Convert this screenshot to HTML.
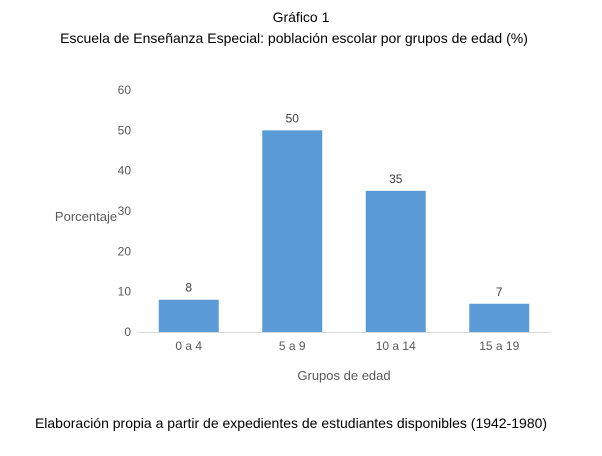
<!DOCTYPE html>
<html><head><meta charset="utf-8"><style>
body{margin:0;background:#fff;width:602px;height:456px;overflow:hidden;font-family:"Liberation Sans",sans-serif}
svg{display:block}
</style></head><body>
<svg width="602" height="456">
<text x="301" y="22" text-anchor="middle" font-size="14" fill="#000">Gráfico 1</text>
<text x="294" y="43" text-anchor="middle" font-size="14" fill="#000">Escuela de Enseñanza Especial: población escolar por grupos de edad (%)</text>
<g id="plot"></g>
<text x="86" y="221" text-anchor="middle" font-size="13" fill="#595959">Porcentaje</text>
<text x="344" y="380" text-anchor="middle" font-size="13" fill="#595959">Grupos de edad</text>
<text x="291" y="428" text-anchor="middle" font-size="14" fill="#000">Elaboración propia a partir de expedientes de estudiantes disponibles (1942-1980)</text>
</svg>
<script>
const categories=["0 a 4","5 a 9","10 a 14","15 a 19"];
const values=[8,50,35,7];
const yTicks=[0,10,20,30,40,50,60];
const NS="http://www.w3.org/2000/svg";
const g=document.getElementById("plot");
const x0=137,x1=551,yb=332,yt=90,ymax=60;
const y=v=>yb-(v/ymax)*(yb-yt);
const band=(x1-x0)/categories.length;
function mk(t,a,txt){const e=document.createElementNS(NS,t);for(const k in a)e.setAttribute(k,a[k]);if(txt!=null)e.textContent=txt;g.appendChild(e);return e;}
yTicks.forEach(t=>{
const e=mk("text",{x:131,y:y(t)+4,"text-anchor":"end","font-size":12,fill:"#595959"},t);


});
const ax=mk("line",{x1:x0,x2:x1,y1:yb+0.5,y2:yb+0.5,stroke:"#d9d9d9","stroke-width":1});


categories.forEach((c,i)=>{
const cx=x0+band*(i+0.5);
const r=mk("rect",{x:cx-30,y:y(values[i]),width:60,height:yb-y(values[i]),fill:"#5b9bd5"});


const l=mk("text",{x:cx,y:y(values[i])-8,"text-anchor":"middle","font-size":12,fill:"#404040"},values[i]);


const xl=mk("text",{x:cx,y:yb+18,"text-anchor":"middle","font-size":12,fill:"#595959"},c);


});
</script>
</body></html>
